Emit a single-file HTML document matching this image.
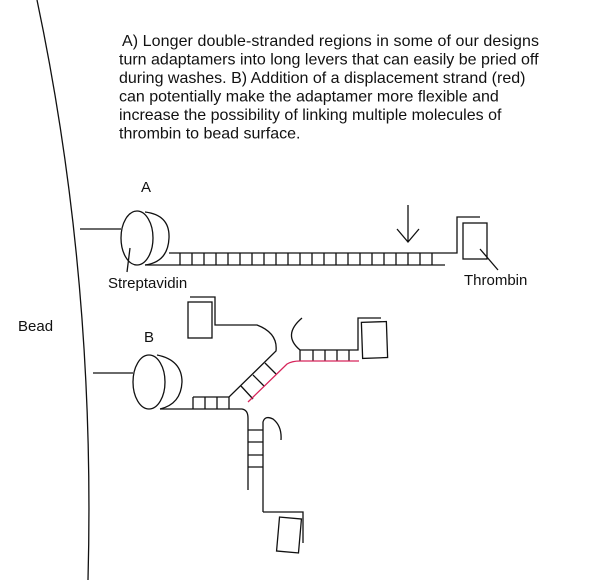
<!DOCTYPE html>
<html><head><style>
body{margin:0;background:#fff;}
svg{display:block;}
text{font-family:"Liberation Sans",sans-serif;fill:#111;}
</style></head><body>
<svg width="600" height="580" viewBox="0 0 600 580" xmlns="http://www.w3.org/2000/svg">
<g fill="none" stroke="#111" stroke-width="1.3">
<path d="M37 0 Q 96 280 88 580"/>
<!-- A -->
<line x1="80" y1="229" x2="121" y2="229"/>
<ellipse cx="137" cy="238" rx="16" ry="27"/>
<path d="M145 212 Q 170 215 169 238 Q 168 262 145 265"/>
<path d="M169 253 H457 V217 H480"/>
<line x1="145" y1="265" x2="445" y2="265"/>
<path d="M180 253 V265 M192 253 V265 M204 253 V265 M216 253 V265 M228 253 V265 M240 253 V265 M252 253 V265 M264 253 V265 M276 253 V265 M288 253 V265 M300 253 V265 M312 253 V265 M324 253 V265 M336 253 V265 M348 253 V265 M360 253 V265 M372 253 V265 M384 253 V265 M396 253 V265 M408 253 V265 M420 253 V265 M432 253 V265"/>
<rect x="463" y="223" width="24" height="36"/>
<line x1="480" y1="249" x2="498" y2="270"/>
<path d="M408 205 V242 M397 229 L408 242 L419 229"/>
<line x1="130" y1="248" x2="127" y2="272"/>
<!-- B -->
<line x1="93" y1="373" x2="133" y2="373"/>
<ellipse cx="149" cy="382" rx="16" ry="27"/>
<path d="M157 355 Q 182 360 182 382 Q 181 404 160 409"/>
<path d="M160 409 H242 Q 248 410 248 418 V490"/>
<path d="M193 397 H229 L276 351 Q 278 333 257 325 H215 V297 H190"/>
<path d="M193 397 V409 M205 397 V409 M217 397 V409 M229 397 V409"/>
<path d="M241 386 L253 399 M253 375 L264 386 M265 363 L276 374"/>
<rect x="188" y="302" width="24" height="36"/>
<path d="M300 350 H358 V318 H381"/>
<path d="M300 350 Q 282 335 302 318"/>
<path d="M300 350 V361 M313 350 V361 M325 350 V361 M337 350 V361 M349 350 V361"/>
<rect x="362" y="322" width="25" height="36" transform="rotate(-2 374 340)"/>
<path d="M263 512 V422 Q 265 415 273 419 Q 282 426 281 440"/>
<path d="M263 512 H303 V543"/>
<path d="M248 430 H263 M248 442 H263 M248 455 H263 M248 467 H263"/>
<rect x="278" y="518" width="22" height="34" transform="rotate(5 289 535)"/>
</g>
<path d="M248 402 L287 364 Q 292 361 300 361 H359" fill="none" stroke="#d6245a" stroke-width="1.3"/>
<g font-size="16" textLength="">
<text x="122" y="46" textLength="417">A) Longer double-stranded regions in some of our designs</text>
<text x="119" y="64.5">turn adaptamers into long levers that can easily be pried off</text>
<text x="119" y="83">during washes. B) Addition of a displacement strand (red)</text>
<text x="119" y="101.5">can potentially make the adaptamer more flexible and</text>
<text x="119" y="120">increase the possibility of linking multiple molecules of</text>
<text x="119" y="138.5">thrombin to bead surface.</text>
</g>
<g font-size="15">
<text x="141" y="192">A</text>
<text x="108" y="288">Streptavidin</text>
<text x="464" y="285">Thrombin</text>
<text x="18" y="331">Bead</text>
<text x="144" y="342">B</text>
</g>
</svg>
</body></html>
